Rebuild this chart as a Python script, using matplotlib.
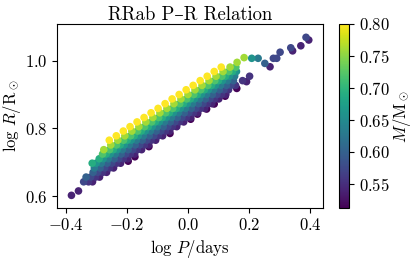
import matplotlib
matplotlib.use('Agg')
import matplotlib.pyplot as plt
import numpy as np

plt.rcParams['font.family'] = ['cmr10', 'DejaVu Serif']
plt.rcParams['mathtext.fontset'] = 'cm'
plt.rcParams['axes.formatter.use_mathtext'] = True

# ---- data ----
masses = [0.515, 0.54, 0.555, 0.575, 0.60, 0.63, 0.66, 0.69, 0.72, 0.76, 0.80]

logP_m0515 = [-0.196, -0.174, -0.128, -0.059, 0.009, 0.031, 0.061, 0.086, 0.122, 0.160]
logR_m0515 = [0.703, 0.716, 0.746, 0.785, 0.827, 0.842, 0.857, 0.872, 0.895, 0.918]

logP_m054 = [-0.382, -0.359, -0.313, -0.290, -0.267, -0.244, -0.221, -0.198, -0.175, -0.152,
             -0.129, -0.106, -0.083, -0.060, -0.037, -0.014, 0.009, 0.032, 0.055, 0.078,
             0.101, 0.124, 0.192, 0.269, 0.343, 0.370, 0.396]
logR_m054 = [0.602, 0.615, 0.642, 0.656, 0.670, 0.683, 0.697, 0.710, 0.724, 0.737,
             0.751, 0.765, 0.778, 0.792, 0.805, 0.819, 0.832, 0.846, 0.859, 0.873,
             0.887, 0.900, 0.938, 0.982, 1.029, 1.044, 1.061]

logP_m0555 = [-0.326, -0.303, -0.280, -0.257, -0.234, -0.212, -0.189, -0.166, -0.143, -0.120,
              -0.097, -0.074, -0.051, -0.028, -0.005, 0.018, 0.041, 0.064, 0.087, 0.110,
              0.133, 0.156, 0.179, 0.202]
logR_m0555 = [0.642, 0.656, 0.670, 0.683, 0.697, 0.710, 0.724, 0.737, 0.751, 0.765,
              0.778, 0.792, 0.805, 0.819, 0.832, 0.846, 0.859, 0.873, 0.887, 0.900,
              0.914, 0.927, 0.941, 0.954]

logP_m0575 = [-0.342, -0.319, -0.296, -0.273, -0.250, -0.227, -0.204, -0.181, -0.158, -0.135,
              -0.112, -0.089, -0.066, -0.043, -0.020, 0.003, 0.026, 0.049, 0.072, 0.095,
              0.118, 0.141, 0.280, 0.291, 0.302, 0.337, 0.387]
logR_m0575 = [0.642, 0.656, 0.670, 0.683, 0.697, 0.710, 0.724, 0.737, 0.751, 0.765,
              0.778, 0.792, 0.805, 0.819, 0.832, 0.846, 0.859, 0.873, 0.887, 0.900,
              0.914, 0.927, 1.007, 1.007, 1.025, 1.038, 1.069]

logP_m060 = [-0.334, -0.311, -0.288, -0.265, -0.242, -0.219, -0.196, -0.173, -0.150, -0.127,
             -0.104, -0.081, -0.058, -0.035, -0.012, 0.011, 0.034, 0.057, 0.080, 0.103,
             0.126, 0.149, 0.252]
logR_m060 = [0.656, 0.670, 0.683, 0.697, 0.710, 0.724, 0.737, 0.751, 0.765, 0.778,
             0.792, 0.805, 0.819, 0.832, 0.846, 0.859, 0.873, 0.887, 0.900, 0.914,
             0.927, 0.941, 0.992]

logP_m063 = [-0.307, -0.284, -0.261, -0.238, -0.215, -0.192, -0.169, -0.146, -0.123, -0.100,
             -0.077, -0.054, -0.031, -0.008, 0.015, 0.038, 0.061, 0.084, 0.107, 0.130,
             0.153, 0.230]
logR_m063 = [0.683, 0.697, 0.710, 0.724, 0.737, 0.751, 0.765, 0.778, 0.792, 0.805,
             0.819, 0.832, 0.846, 0.859, 0.873, 0.887, 0.900, 0.914, 0.927, 0.941,
             0.954, 1.007]

logP_m066 = [-0.301, -0.278, -0.255, -0.232, -0.209, -0.186, -0.163, -0.140, -0.117, -0.094,
             -0.071, -0.048, -0.025, -0.002, 0.021, 0.044, 0.067, 0.090, 0.113, 0.136,
             0.159, 0.209]
logR_m066 = [0.697, 0.710, 0.724, 0.737, 0.751, 0.765, 0.778, 0.792, 0.805, 0.819,
             0.832, 0.846, 0.859, 0.873, 0.887, 0.900, 0.914, 0.927, 0.941, 0.954,
             0.968, 1.007]

logP_m069 = [-0.314, -0.291, -0.268, -0.245, -0.222, -0.199, -0.176, -0.153, -0.130, -0.107,
             -0.084, -0.061, -0.038, -0.015, 0.008, 0.031, 0.054, 0.077, 0.100, 0.123,
             0.146]
logR_m069 = [0.697, 0.710, 0.724, 0.737, 0.751, 0.765, 0.778, 0.792, 0.805, 0.819,
             0.832, 0.846, 0.859, 0.873, 0.887, 0.900, 0.914, 0.927, 0.941, 0.954,
             0.968]

logP_m072 = [-0.280, -0.257, -0.234, -0.211, -0.188, -0.165, -0.142, -0.119, -0.096, -0.073,
             -0.050, -0.027, -0.004, 0.019, 0.042, 0.065, 0.088, 0.111, 0.134, 0.157]
logR_m072 = [0.724, 0.737, 0.751, 0.765, 0.778, 0.792, 0.805, 0.819, 0.832, 0.846,
             0.859, 0.873, 0.887, 0.900, 0.914, 0.927, 0.941, 0.954, 0.968, 0.981]

logP_m076 = [-0.276, -0.253, -0.230, -0.207, -0.184, -0.161, -0.138, -0.115, -0.092, -0.069,
             -0.046, -0.023, 0.000, 0.023, 0.046, 0.069, 0.092, 0.115, 0.138, 0.161,
             0.184]
logR_m076 = [0.737, 0.751, 0.765, 0.778, 0.792, 0.805, 0.819, 0.832, 0.846, 0.859,
             0.873, 0.887, 0.900, 0.914, 0.927, 0.941, 0.954, 0.968, 0.981, 0.995,
             1.009]

logP_m080 = [-0.258, -0.235, -0.212, -0.190, -0.167, -0.144, -0.121, -0.098, -0.075, -0.052,
             -0.029, -0.006, 0.017, 0.040, 0.063, 0.086, 0.109]
logR_m080 = [0.765, 0.778, 0.792, 0.805, 0.819, 0.832, 0.846, 0.859, 0.873, 0.887,
             0.900, 0.914, 0.927, 0.941, 0.954, 0.968, 0.981]

groups = [
    (logP_m0515, logR_m0515), (logP_m054, logR_m054), (logP_m0555, logR_m0555),
    (logP_m0575, logR_m0575), (logP_m060, logR_m060), (logP_m063, logR_m063),
    (logP_m066, logR_m066), (logP_m069, logR_m069), (logP_m072, logR_m072),
    (logP_m076, logR_m076), (logP_m080, logR_m080),
]

logP = np.concatenate([g[0] for g in groups])
logR = np.concatenate([g[1] for g in groups])
mass = np.concatenate([[m] * len(g[0]) for m, g in zip(masses, groups)])

# ---- figure ----
fig = plt.figure(figsize=(4.15, 2.6), dpi=100)
ax = fig.add_axes([0.138, 0.201, 0.641, 0.707])
cax = fig.add_axes([0.8176, 0.199, 0.0241, 0.709])

sc = ax.scatter(logP, logR, c=mass, cmap='viridis', vmin=0.512, vmax=0.80,
                s=30, linewidths=0)

ax.set_xlim(-0.4285, 0.4436)
ax.set_ylim(0.5654, 1.1086)
ax.set_xticks([-0.4, -0.2, 0.0, 0.2, 0.4])
ax.set_yticks([0.6, 0.8, 1.0])
ax.tick_params(direction='out', labelsize=12)
ax.set_xlabel(r'$\log\,P/\mathrm{days}$', fontsize=12, labelpad=3)
ax.set_ylabel(r'$\log\,R/\mathrm{R}_\odot$', fontsize=12, labelpad=1)
ax.set_title('RRab P–R Relation', fontsize=13.5, pad=3)

cb = fig.colorbar(sc, cax=cax)
cb.set_ticks([0.55, 0.60, 0.65, 0.70, 0.75, 0.80])
cb.ax.tick_params(labelsize=12, direction='out')
cb.set_label(r'$M/\mathrm{M}_\odot$', fontsize=12, labelpad=1)
cb.outline.set_linewidth(0.8)

fig.savefig('out.png', dpi=100)
